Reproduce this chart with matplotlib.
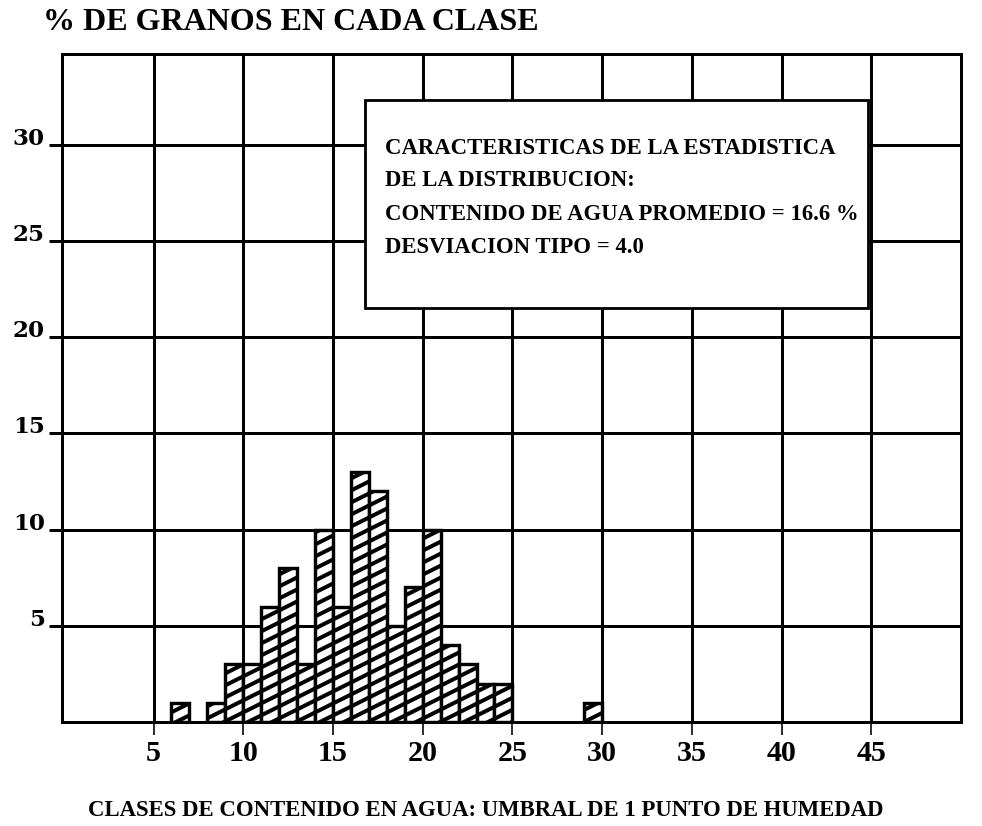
import numpy as np
import matplotlib
matplotlib.use("Agg")
import matplotlib.pyplot as plt
from matplotlib import hatch as mhatch
from matplotlib.path import Path
from matplotlib.patches import Rectangle

# ---- data ----
class_start = [6, 8, 9, 10, 11, 12, 13, 14, 15, 16, 17, 18, 19, 20, 21, 22, 23, 24, 29]
percent = [1, 1, 3, 3, 6, 8, 3, 10, 6, 13, 12, 5, 7, 10, 4, 3, 2, 2, 1]
x_ticks = [5, 10, 15, 20, 25, 30, 35, 40, 45]
y_ticks = [5, 10, 15, 20, 25, 30]
title = "% DE GRANOS EN CADA CLASE"
x_label = "CLASES DE CONTENIDO EN AGUA: UMBRAL DE 1 PUNTO DE HUMEDAD"
box_lines = [
    "CARACTERISTICAS DE LA ESTADISTICA",
    "DE LA DISTRIBUCION:",
    "CONTENIDO DE AGUA PROMEDIO = 16.6 %",
    "DESVIACION TIPO = 4.0",
]


# shallow diagonal hatch (slope 1/2), replacing the default '/' pattern
class ShallowNEHatch(mhatch.HatchPatternBase):
    def __init__(self, hatch, density):
        n = hatch.count('/')
        if n:
            step = 1.0 / (6 * n)
            self.offsets = np.arange(-0.75, 1.0 + step, step)
        else:
            self.offsets = np.array([])
        self.num_vertices = 2 * len(self.offsets)

    def set_vertices_and_codes(self, vertices, codes):
        x0, x1 = -0.1, 1.1
        for i, c in enumerate(self.offsets):
            vertices[2 * i] = (x0, c + 0.5 * x0)
            vertices[2 * i + 1] = (x1, c + 0.5 * x1)
            codes[2 * i] = Path.MOVETO
            codes[2 * i + 1] = Path.LINETO


for i, ht in enumerate(mhatch._hatch_types):
    if ht is mhatch.NorthEastHatch:
        mhatch._hatch_types[i] = ShallowNEHatch

DPI = 72
plt.rcParams["hatch.linewidth"] = 4.0
plt.rcParams["hatch.color"] = "black"

fig = plt.figure(figsize=(982 / DPI, 826 / DPI), dpi=DPI)
fig.patch.set_facecolor("white")
ax = fig.add_axes([62 / 982, 1 - 722 / 826, (961 - 62) / 982, (722 - 54) / 826])

ax.bar(class_start, percent, width=1.0, align="edge", facecolor="white",
       edgecolor="black", linewidth=3.4, hatch="/", zorder=2)

ax.set_xlim(-0.1, 50)
ax.set_ylim(0, 34.73)
ax.set_xticks(x_ticks)
ax.set_yticks(y_ticks)
ax.set_xticklabels([str(v) for v in x_ticks], fontfamily="Liberation Serif",
                   fontweight="bold", fontsize=30)
ax.set_yticklabels([str(v) for v in y_ticks], fontfamily="DejaVu Serif",
                   fontweight="bold", fontsize=23, va="baseline")
ax.tick_params(axis="x", direction="out", length=13, width=1.6, pad=5)
ax.tick_params(axis="y", direction="out", length=13, width=3, pad=4)
ax.grid(True, color="black", linewidth=3)
ax.set_axisbelow(True)
for s in ax.spines.values():
    s.set_linewidth(3)
    s.set_color("black")

# statistics box
ax.add_patch(Rectangle((0.337, 0.62), 0.8966 - 0.337, 0.931 - 0.62,
                       transform=ax.transAxes, facecolor="white",
                       edgecolor="black", linewidth=2.8, zorder=5))
line_y = [0.859, 0.811, 0.759, 0.7096]
for txt, yy in zip(box_lines, line_y):
    ax.text(0.359, yy, txt, transform=ax.transAxes, ha="left", va="center",
            fontfamily="Liberation Serif", fontweight="bold", fontsize=22.8, zorder=6)

fig.text(43 / 982, 1 - 23 / 826, title, ha="left", va="center",
         fontfamily="Liberation Serif", fontweight="bold", fontsize=32)
fig.text(486 / 982, 1 - 810 / 826, x_label, ha="center", va="center",
         fontfamily="Liberation Serif", fontweight="bold", fontsize=22.7)

fig.savefig("out.png", dpi=DPI, facecolor="white")
